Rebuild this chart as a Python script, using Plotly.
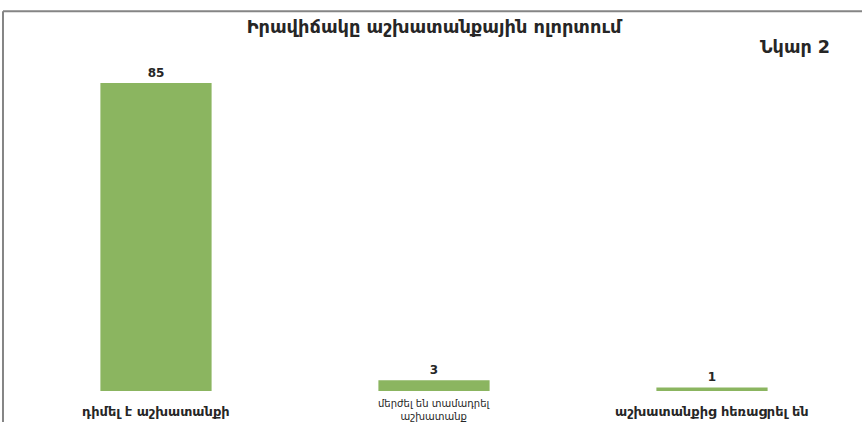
import plotly.graph_objects as go

categories = ["դիմել է աշխատանքի", "մերժել են տամադրել<br>աշխատանք", "աշխատանքից հեռացրել են"]
values = [85, 3, 1]
title_text = "Իրավիճակը աշխատանքային ոլորտում"
figure_label = "Նկար 2"

FONT = "DejaVu Sans"
TXT = "#262626"
fig = go.Figure()
fig.add_trace(go.Bar(
    x=categories, y=values,
    marker=dict(color="#8BB560", line=dict(width=0)),
    text=["<b>" + str(v) + "</b>" for v in values], textposition="outside",
    textfont=dict(family=FONT, size=12, color=TXT),
    cliponaxis=False,
))

# category labels (drawn as annotations so each can have its own size)
label_styles = [dict(size=13, bold=True, yshift=-11),
                dict(size=10, bold=False, yshift=-5),
                dict(size=13, bold=True, yshift=-11)]
annotations = []
for cat, st in zip(categories, label_styles):
    txt = "<b>" + cat + "</b>" if st["bold"] else cat
    annotations.append(dict(text=txt, x=cat, xref="x", y=0, yref="paper", yanchor="top",
                            xanchor="center", yshift=st["yshift"], showarrow=False,
                            font=dict(size=st["size"], family=FONT, color=TXT)))
annotations.append(dict(text="<b>" + figure_label + "</b>", xref="paper", yref="paper",
                        x=0.977, y=1.055, xanchor="right", yanchor="middle", showarrow=False,
                        font=dict(size=17.6, family=FONT, color=TXT)))

fig.update_layout(
    width=862, height=422,
    margin=dict(l=17, r=11, t=65, b=31, autoexpand=False),
    paper_bgcolor="white", plot_bgcolor="white",
    bargap=0.6,
    showlegend=False,
    font=dict(family=FONT, color=TXT),
    title=dict(text="<b>" + title_text + "</b>", x=0.5035, xanchor="center",
               y=0.936, yanchor="middle", font=dict(size=17.8, family=FONT, color=TXT)),
    xaxis=dict(showticklabels=False, showline=False, showgrid=False, ticks="",
               zeroline=False, automargin=False),
    yaxis=dict(range=[0, 90], visible=False, automargin=False),
    shapes=[
        dict(type="line", xref="paper", yref="paper", x0=-0.0168, x1=1.05, y0=1.165, y1=1.165,
             line=dict(color="#858585", width=2), layer="above"),
        dict(type="line", xref="paper", yref="paper", x0=-0.0168, x1=-0.0168, y0=1.165, y1=-0.3,
             line=dict(color="#858585", width=2), layer="above"),
    ],
    annotations=annotations,
)
fig.write_html("out.html", config={"displayModeBar": False},
               post_script=("document.documentElement.style.margin='0';"
                            "document.body.style.margin='0';document.body.style.padding='0';"
                            "document.documentElement.style.overflow='hidden';"
                            "window.scrollTo(0,0);"))
